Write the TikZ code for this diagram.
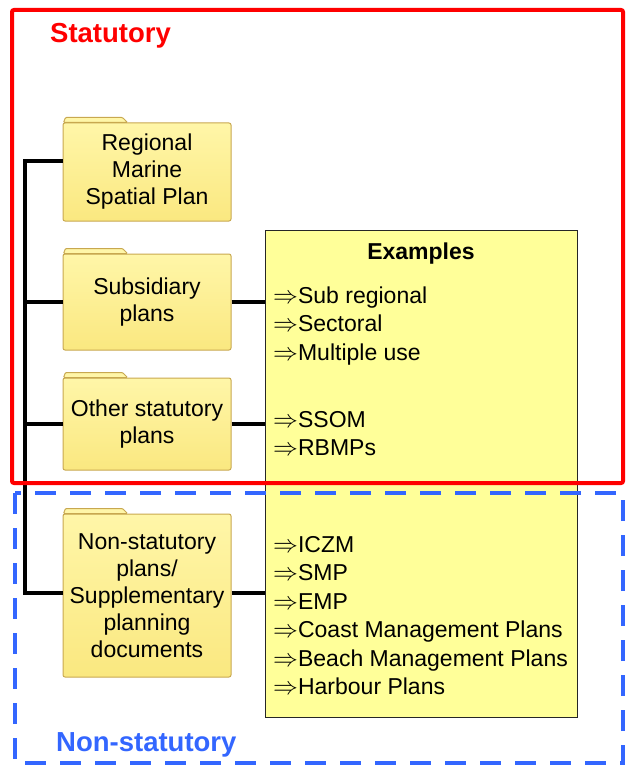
\documentclass[tikz,border=0pt]{standalone}
\usepackage{fontspec}
\setmainfont{Liberation Sans}
\usepackage{tikz}
\usetikzlibrary{positioning}
\definecolor{statRed}{RGB}{255,0,0}
\definecolor{nonstatBlue}{RGB}{51,102,255}
\definecolor{folderFill}{RGB}{250,232,128}
\definecolor{folderLight}{RGB}{255,246,168}
\definecolor{folderEdge}{RGB}{200,168,80}
\definecolor{exampleFill}{RGB}{255,255,153}
\tikzset{
  folder/.style={draw=folderEdge, line width=1pt, top color=folderLight, bottom color=folderFill,
    rounded corners=2pt, minimum width=168pt, inner sep=0pt, align=center,
    font=\fontsize{23}{27}\selectfont},
  link/.style={line width=4pt},
  item/.style={anchor=base west, inner sep=0pt, font=\fontsize{23}{28}\selectfont},
}
\newcommand{\drawTab}[1]{
    % Draw the folder tab on top of the body
    \filldraw[draw=folderEdge, fill=folderLight, line width=1pt, rounded corners=1pt]
      ([xshift=1pt]#1.north west) -- ++(2,-5) -- ++(57,0) -- ++(5,5) -- cycle;
}

\begin{document}
\begin{tikzpicture}[x=1pt,y=-1pt]
  \useasboundingbox (0,0) rectangle (627,781);

  % Draw the examples box
  \node[draw=black!85, fill=exampleFill, line width=1pt, minimum width=312pt, minimum height=487pt,
    inner sep=0pt] (examples) at (421,473.5) {};
  \node[inner sep=0pt, font=\bfseries\fontsize{23}{28}\selectfont, below=13pt of examples.north] (extitle) {Examples};
  \foreach \y/\txt [count=\i] in {303/Sub regional, 331.5/Sectoral, 360/Multiple use, 427/SSOM, 455.5/RBMPs,
      552.3/ICZM, 580.8/SMP, 609.3/EMP, 637.8/Coast Management Plans, 666.3/Beach Management Plans, 694.8/Harbour Plans} {
    \node[item] (ex\i) at (273,\y) {$\Rightarrow$\txt};
  }

  % Draw the plan folders
  \node[folder, minimum height=98pt] (rmsp) at (147,172) {Regional\\Marine\\Spatial Plan};
  \node[folder, minimum height=96pt] (subs) at (147,302) {Subsidiary\\plans};
  \node[folder, minimum height=92pt] (other) at (147,424) {Other statutory\\plans};
  \node[folder, minimum height=163pt] (nonstat) at (147,595.5) {Non-statutory\\plans/\\Supplementary\\planning\\documents};
  \drawTab{rmsp}
  \drawTab{subs}
  \drawTab{other}
  \drawTab{nonstat}

  % Draw the connectors
  \coordinate (trunkTop) at (25,161);
  \coordinate (trunkBot) at (25,593);
  \draw[link] (rmsp.west |- trunkTop) -- (trunkTop) -- (trunkBot) -- (nonstat.west |- trunkBot);
  \draw[link] (trunkTop |- subs.west) -- (subs.west);
  \draw[link] (trunkTop |- other.west) -- (other.west);
  \draw[link] (subs.east) -- (subs.east -| examples.west);
  \draw[link] (other.east) -- (other.east -| examples.west);
  \draw[link] (nonstat.east |- trunkBot) -- (examples.west |- trunkBot);

  % Draw the statutory and non-statutory frames
  \draw[statRed, line width=4pt, rounded corners=2pt] (12,10) rectangle (623,483);
  \draw[nonstatBlue, line width=4pt, dash pattern=on 21pt off 14pt] (15,493) rectangle (623,763);
  \node[anchor=west, inner sep=0pt, text=statRed, font=\bfseries\fontsize{27.5}{33}\selectfont] (statlabel) at (50,36) {Statutory};
  \node[anchor=west, inner sep=0pt, text=nonstatBlue, font=\bfseries\fontsize{27.5}{33}\selectfont] (nonstatlabel) at (56,745) {Non-statutory};
\end{tikzpicture}
\end{document}
